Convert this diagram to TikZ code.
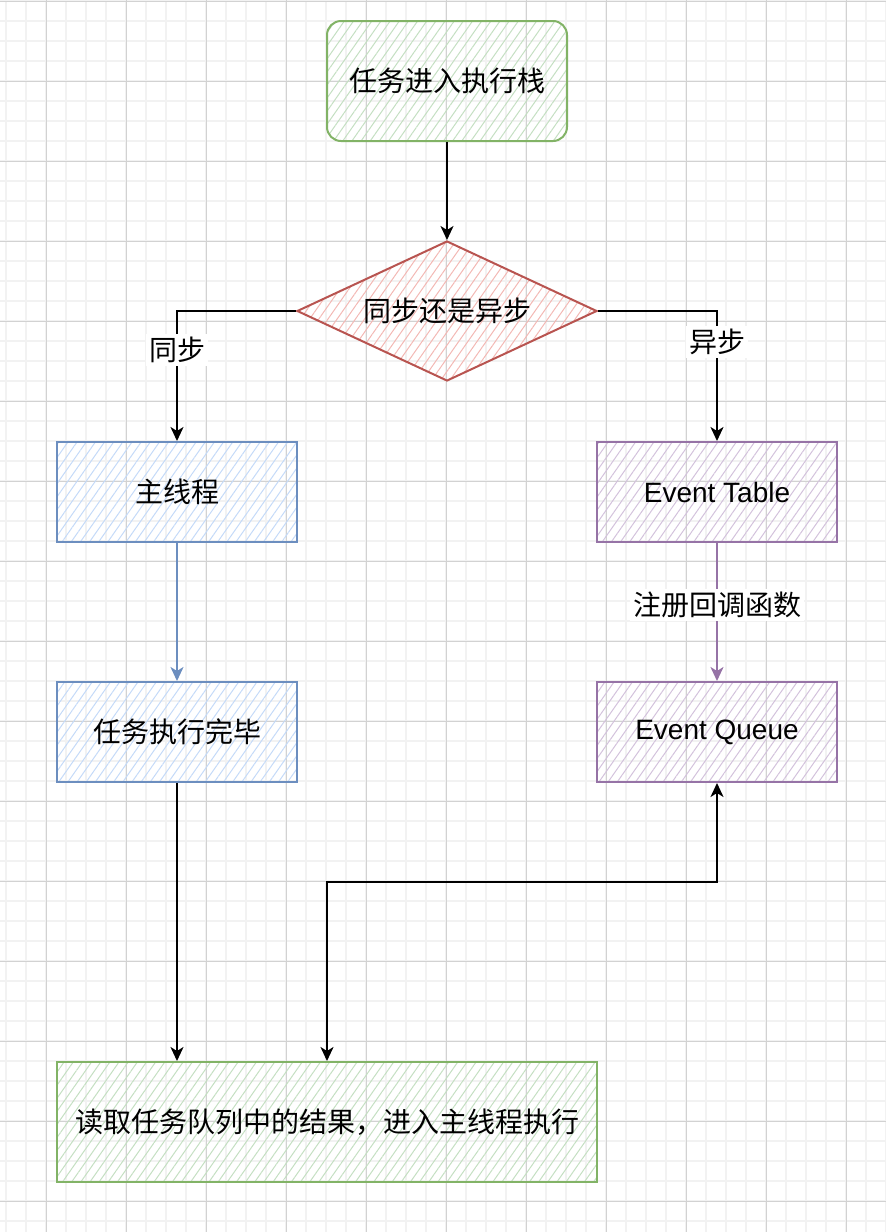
\documentclass[tikz,border=0pt]{standalone}
\usepackage{xcolor}
\usepackage{fontspec}
\setmainfont{Liberation Sans}
\newfontfamily\cjk{Noto Sans CJK SC}
\usepackage{tikz}
\usetikzlibrary{arrows.meta}
\usetikzlibrary{shapes.geometric}
\usetikzlibrary{patterns.meta}

\definecolor{grnline}{HTML}{82B366}
\definecolor{grnfill}{HTML}{C4DFC2}
\definecolor{redline}{HTML}{B85450}
\definecolor{redfill}{HTML}{F3B8B4}
\definecolor{bluline}{HTML}{6C8EBF}
\definecolor{blufill}{HTML}{C4DAF8}
\definecolor{purline}{HTML}{9673A6}
\definecolor{purfill}{HTML}{D3C2DC}
\definecolor{minorgrid}{HTML}{F2F2F2}
\definecolor{majorgrid}{HTML}{D2D2D2}

\tikzset{>={Stealth[length=14pt,width=13pt,inset=4pt]}}
\tikzstyle{hatch} = [pattern={Lines[angle=55,distance=7.5pt,line width=1pt]}]
\tikzstyle{box} = [rectangle, line width=2pt, minimum width=240pt, minimum height=100pt, inner sep=0, font=\fontsize{28}{34}\selectfont]
\tikzstyle{greenbox} = [box, hatch, draw=grnline, pattern color=grnfill]
\tikzstyle{bluebox} = [box, hatch, draw=bluline, pattern color=blufill, font=\cjk\fontsize{28}{34}\selectfont]
\tikzstyle{purplebox} = [box, hatch, draw=purline, pattern color=purfill]
\tikzstyle{flow} = [->, line width=2pt]
\tikzstyle{lbl} = [fill=white, inner sep=3pt, font=\cjk\fontsize{28}{34}\selectfont]

\begin{document}
\begin{tikzpicture}[x=1pt, y=-1pt]
\useasboundingbox (0,0) rectangle (886,1232);
% background grid
\foreach \x in {6,26,...,886} \draw [minorgrid, line width=1.4pt] (\x,0) -- (\x,1232);
\foreach \y in {1,21,...,1232} \draw [minorgrid, line width=1.4pt] (0,\y) -- (886,\y);
\foreach \x in {46,126,...,886} \draw [majorgrid, line width=0.9pt] (\x,0) -- (\x,1232);
\foreach \y in {1,81,...,1232} \draw [majorgrid, line width=0.9pt] (0,\y) -- (886,\y);

\node [greenbox, rounded corners=14pt, minimum height=120pt, font=\cjk\fontsize{28}{34}\selectfont] (start) at (447, 81) {任务进入执行栈};
\node [diamond, hatch, draw=redline, pattern color=redfill, line width=2pt, minimum width=300pt, minimum height=140pt, aspect=2.14, inner sep=0, font=\cjk\fontsize{28}{34}\selectfont] (decide) at (447, 311) {同步还是异步};
\node [bluebox] (main) at (177, 492) {主线程};
\node [purplebox] (table) at (717, 492) {Event Table};
\node [bluebox] (done) at (177, 732) {任务执行完毕};
\node [purplebox] (queue) at (717, 732) {Event Queue};
\node [greenbox, minimum width=540pt, minimum height=120pt, font=\cjk\fontsize{28}{34}\selectfont] (result) at (327, 1122) {读取任务队列中的结果，进入主线程执行};
\coordinate (turn) at (717, 882);

\draw [flow] (start) to (decide);
\draw [flow] (decide.west) -| node[lbl, pos=0.65] {同步} (main);
\draw [flow] (decide.east) -| node[lbl, pos=0.62] {异步} (table);
\draw [flow, draw=bluline] (main) to (done);
\draw [flow, draw=purline] (table) to node[lbl, pos=0.45] {注册回调函数} (queue);
\draw [flow] (done) to (done |- result.north);
\draw [<->, line width=2pt] (result.north) |- (turn) -- (queue);
\end{tikzpicture}
\end{document}
